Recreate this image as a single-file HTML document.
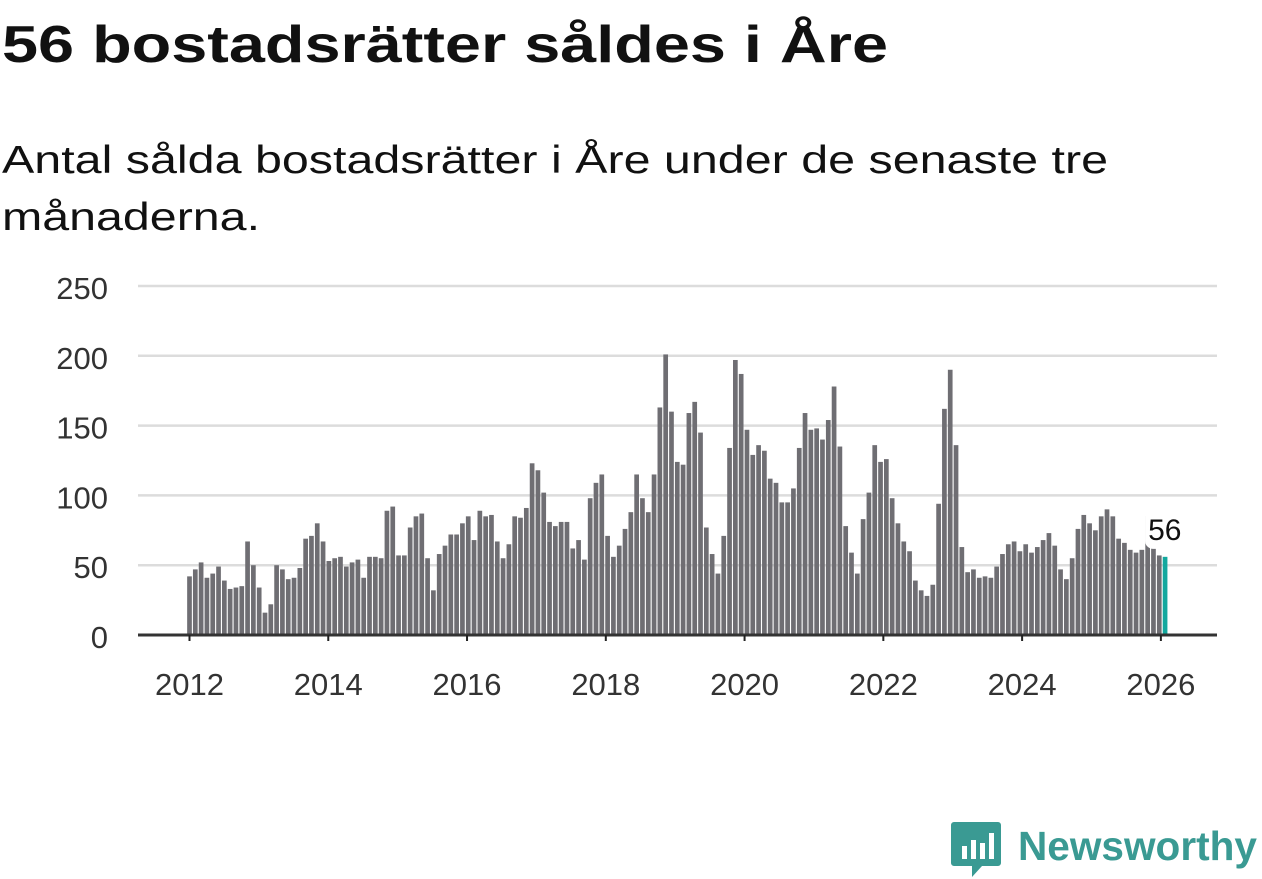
<!DOCTYPE html>
<html><head><meta charset="utf-8"><style>
html,body{margin:0;padding:0;background:#fff;}
svg{display:block;font-family:"Liberation Sans",sans-serif;}
</style></head><body>
<svg id="chart" width="1262" height="879">
<text x="2" y="62" font-size="52" font-weight="bold" fill="#111" textLength="886" lengthAdjust="spacingAndGlyphs">56 bostadsrätter såldes i Åre</text>
<text x="2" y="173" font-size="39" fill="#111" textLength="1106" lengthAdjust="spacingAndGlyphs">Antal sålda bostadsrätter i Åre under de senaste tre</text>
<text x="2" y="230" font-size="39" fill="#111" textLength="258" lengthAdjust="spacingAndGlyphs">månaderna.</text>
<g id="grid"></g><g id="bars"></g><g id="axes"></g>
<g>
<path d="M954 822 h44 a3 3 0 0 1 3 3 v38 a3 3 0 0 1 -3 3 h-16 l-10 11 v-11 h-18 a3 3 0 0 1 -3 -3 v-38 a3 3 0 0 1 3 -3z" fill="#3a9a93"/>
<rect x="962" y="846" width="5" height="13" fill="#fff"/><rect x="971" y="840" width="5" height="19" fill="#fff"/><rect x="980" y="843" width="5" height="16" fill="#fff"/><rect x="989" y="833" width="5" height="26" fill="#fff"/>
<text x="1018" y="860" font-size="41" font-weight="bold" fill="#3a9a93" textLength="239" lengthAdjust="spacingAndGlyphs">Newsworthy</text>
</g>
</svg>
<script>
const values=[42,47,52,41,44,49,39,33,34,35,67,50,34,16,22,50,47,40,41,48,69,71,80,67,53,55,56,49,52,54,41,56,56,55,89,92,57,57,77,85,87,55,32,58,
64,72,72,80,85,68,89,85,86,67,55,65,85,84,91,123,118,102,81,78,81,81,62,68,54,98,109,115,71,56,64,76,88,115,98,88,115,163,201,160,124,122,159,167,
145,77,58,44,71,134,197,187,147,129,136,132,112,109,95,95,105,134,159,147,148,140,154,178,135,78,59,44,83,102,136,124,126,98,80,67,60,39,32,28,36,94,162,
190,136,63,45,47,41,42,41,49,58,65,67,60,65,59,63,68,73,64,47,40,55,76,86,80,75,85,90,85,69,66,61,59,61,85,65,57,56];
const yTicks=[0,50,100,150,200,250];
const xTickYears=[2012,2014,2016,2018,2020,2022,2024,2026];
const startYear=2012;
const ns="http://www.w3.org/2000/svg";
const y0=635,yPer=(635-286)/250;
const yScale=v=>y0-v*yPer;
const xScale=i=>189.5+i*5.807;
function mk(tag,attrs,parent){const e=document.createElementNS(ns,tag);for(const k in attrs)e.setAttribute(k,attrs[k]);parent.appendChild(e);return e;}
const grid=document.getElementById('grid'),bars=document.getElementById('bars'),axes=document.getElementById('axes');
yTicks.forEach(t=>{
 if(t>0){const l=mk('line',{x1:138,x2:1217,y1:yScale(t),y2:yScale(t),stroke:'#dcdcdc','stroke-width':2.5},grid);
 
 }
 const tx=mk('text',{x:108,y:yScale(t)+13,'font-size':31,fill:'#333','text-anchor':'end'},grid);
 tx.textContent=t;
 
 
});
values.forEach((v,i)=>{
 const last=i===values.length-1;
 const r=mk('rect',{x:xScale(i)-2.35,y:yScale(v),width:4.7,height:y0-yScale(v),fill:last?'#13a89e':'#6f6e73'},bars);
 
 
});
const al=mk('line',{x1:138,x2:1217,y1:y0,y2:y0,stroke:'#333','stroke-width':3},axes);


xTickYears.forEach(yr=>{
 const x=xScale((yr-startYear)*12)-(yr-startYear)*0.3;
 const tk=mk('line',{x1:x,x2:x,y1:y0,y2:y0+6,stroke:'#222','stroke-width':2},axes);
 
 
 const tx=mk('text',{x:x,y:695,'font-size':31,fill:'#333','text-anchor':'middle'},axes);
 tx.textContent=yr;
 
 
});
const li=values.length-1;
const lbg=mk('rect',{x:xScale(li)-20,y:yScale(values[li])-48,width:40,height:40,fill:'#fff',rx:8},axes);


const lt=mk('text',{x:xScale(li)-17,y:yScale(values[li])-17,'font-size':30,fill:'#111'},axes);
lt.textContent=values[li];


</script>
</body></html>
